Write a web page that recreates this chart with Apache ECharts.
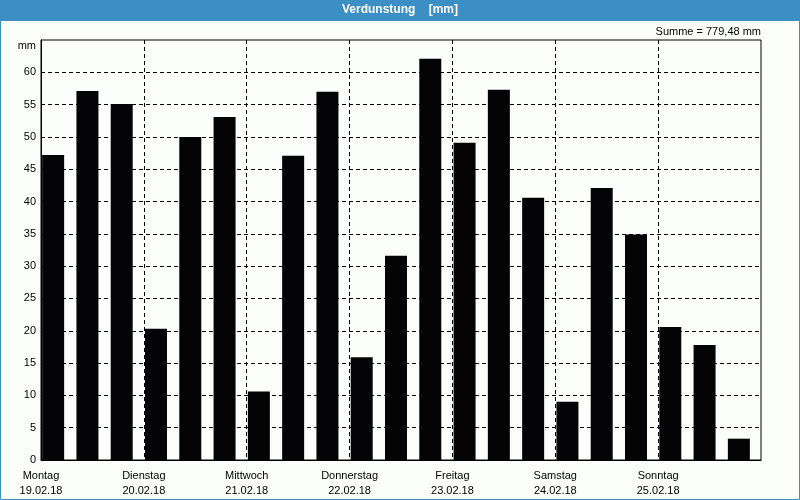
<!DOCTYPE html>
<html>
<head>
<meta charset="utf-8">
<script src="https://cdn.jsdelivr.net/npm/echarts@6/dist/echarts.min.js"></script>
<style>html,body{margin:0;padding:0;background:#fcfefc;}#c{width:800px;height:500px;}</style>
</head>
<body>
<div id="c"></div>
<script>
const dayNames = ['Montag','Dienstag','Mittwoch','Donnerstag','Freitag','Samstag','Sonntag'];
const dayDates = ['19.02.18','20.02.18','21.02.18','22.02.18','23.02.18','24.02.18','25.02.18'];
const periods = ['Mo 1','Mo 2','Mo 3','Di 1','Di 2','Di 3','Mi 1','Mi 2','Mi 3','Do 1','Do 2','Do 3','Fr 1','Fr 2','Fr 3','Sa 1','Sa 2','Sa 3','So 1','So 2','So 3'];
const values = [47.2,57.1,55.1,20.3,50.0,53.1,10.6,47.1,57.0,15.9,31.6,62.1,49.1,57.3,40.6,9.0,42.1,34.9,20.6,17.8,3.3];
const yTicks = [0,5,10,15,20,25,30,35,40,45,50,55,60];
const summe = 'Summe = 779,48 mm';

const blue = '#3b8fc4';
const font = 'Liberation Sans, Arial, sans-serif';
const chart = echarts.init(document.getElementById('c'));
chart.setOption({
  backgroundColor: '#fcfefc',
  animation: false,
  graphic: [
    {type:'rect', shape:{x:0,y:0,width:800,height:21}, style:{fill:blue}, z:0},
    {type:'rect', shape:{x:0.5,y:0.5,width:799,height:499}, style:{fill:'none',stroke:blue,lineWidth:1}, z:0},
    {type:'text', left:'center', top:4, style:{text:'Verdunstung    [mm]', fill:'#ffffff', font:'bold 12px ' + font}, z:10},
    {type:'text', right:39, top:26, style:{text:summe, fill:'#000', font:'11px ' + font}, z:10},
    {type:'text', right:764, top:40, style:{text:'mm', fill:'#000', font:'11px ' + font, align:'right'}, z:10}
  ],
  grid: {left:41, right:39, top:40, bottom:40, show:true, borderColor:'#000', borderWidth:1, backgroundColor:'transparent'},
  xAxis: [
    {type:'category', data:periods, show:false, boundaryGap:true},
    {type:'value', min:0, max:7, interval:1, position:'bottom',
     axisLine:{show:true, lineStyle:{color:'#000'}}, axisTick:{show:false},
     splitLine:{show:true, showMinLine:false, showMaxLine:false, lineStyle:{color:'#000', type:[4,3], width:1}},
     axisLabel:{color:'#000', fontSize:11, fontFamily:font, lineHeight:15, margin:8,
       formatter:function(v){ const i=Math.round(v); return i<7 ? dayNames[i]+'\n'+dayDates[i] : ''; }}}
  ],
  yAxis: {type:'value', min:0, max:65, interval:5,
    axisLine:{show:true, lineStyle:{color:'#000'}}, axisTick:{show:false},
    splitLine:{show:true, showMinLine:false, showMaxLine:false, lineStyle:{color:'#000', type:[4,3], width:1}},
    axisLabel:{color:'#000', fontSize:11, fontFamily:font, margin:5,
      formatter:function(v){ return yTicks.indexOf(v) >= 0 ? String(v) : ''; }}},
  series: [
    {type:'bar', xAxisIndex:0, data:values, barWidth:22, barGap:'0%', itemStyle:{color:'#040306'}, z:5},
    {type:'bar', xAxisIndex:0, data:[], barWidth:10, barGap:'0%'}
  ]
});
</script>
</body>
</html>
